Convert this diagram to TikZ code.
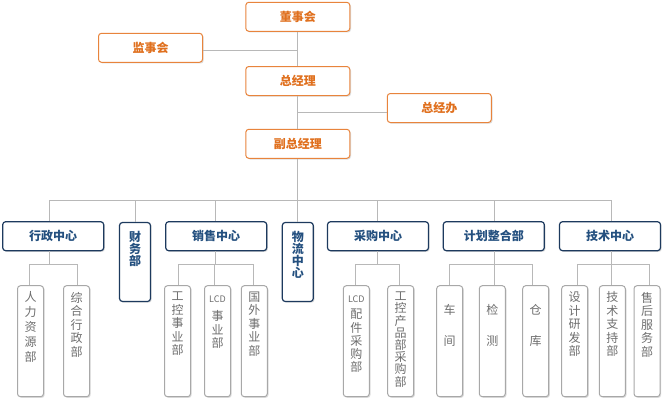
\documentclass[tikz,border=0pt]{standalone}
\usepackage{fontspec}
\setmainfont{Noto Sans CJK SC}
\usetikzlibrary{shadows,calc}
\definecolor{org}{HTML}{E8843C}
\definecolor{orgtxt}{HTML}{E0701E}
\definecolor{navy}{HTML}{1D3A5E}
\definecolor{navytxt}{HTML}{24507F}
\definecolor{gbord}{HTML}{A8A8A8}
\definecolor{gtxt}{HTML}{6E6E6E}
\definecolor{connc}{HTML}{B8B8B8}
\begin{document}
\begin{tikzpicture}[x=1pt,y=-1pt,
 shad/.style={drop shadow={shadow xshift=1.2pt,shadow yshift=-1.2pt,opacity=0.22,fill=black!60}},
 topbox/.style={draw=org,line width=1pt,rounded corners=3pt,fill=white,shad,minimum width=104pt,minimum height=29pt,inner sep=0pt,text=orgtxt,font=\fontsize{12}{12}\selectfont\bfseries},
 midbox/.style={draw=navy,line width=1.2pt,rounded corners=3pt,fill=white,shad,minimum width=101pt,minimum height=29pt,inner sep=0pt,text=navytxt,font=\fontsize{12}{12}\selectfont\bfseries},
 tallbox/.style={draw=navy,line width=1.2pt,rounded corners=3pt,fill=white,shad,minimum width=31pt,minimum height=79pt,inner sep=0pt},
 talltext/.style={text=navytxt,font=\fontsize{12}{12}\selectfont\bfseries,align=center,inner sep=0pt,anchor=north},
 leaf/.style={draw=gbord,line width=1pt,rounded corners=3pt,fill=white,shad,minimum width=26pt,minimum height=111pt,inner sep=0pt},
 leaftext/.style={text=gtxt,font=\fontsize{12}{13.5}\selectfont,align=center,inner sep=0pt,anchor=north},
 conn/.style={draw=connc,line width=1pt}]
\fill[white] (0,0) rectangle (666,412);
\useasboundingbox (0,0) rectangle (666,412);

\coordinate (bus) at (0,200.7);
\coordinate (sub) at (0,264.3);

% top level nodes
\node[topbox] (dsh) at (297.8,16.8) {董事会};
\node[topbox] (jsh) at (150.5,47.8) {监事会};
\node[topbox] (zjl) at (297.8,81) {总经理};
\node[topbox] (zjb) at (439.3,108) {总经办};
\node[topbox] (fzjl) at (297.8,143.8) {副总经理};

% middle level
\node[midbox] (xz) at (53.2,236.2) {行政中心};
\node[tallbox] (cw) at (135,262) {};
\node[talltext] (cwt) at ($(cw.north)+(0,9)$) {财\\务\\部};
\node[midbox] (xs) at (216.2,236.2) {销售中心};
\node[tallbox] (wl) at (297.8,262) {};
\node[talltext] (wlt) at ($(wl.north)+(0,9)$) {物\\流\\中\\心};
\node[midbox] (cg) at (378,236.2) {采购中心};
\node[midbox] (jh) at (493.8,236.2) {计划整合部};
\node[midbox] (js) at (610,236.2) {技术中心};

% leaves
\foreach \n/\x in {rl/30.5,zh/76.5,gk/177.5,lcd/217.5,gw/254.3,lpj/356.3,gkc/400.7,cj/449.7,jc/492.3,ck/535.7,sj/574.7,zc/612.3,sh/647}
  \node[leaf] (\n) at (\x,341.2) {};

\node[leaftext,font=\fontsize{12}{15}\selectfont] (rlt) at ($(rl.north)+(0,6.5)$) {人\\力\\资\\源\\部};
\node[leaftext] (zht) at ($(zh.north)+(0,6.5)$) {综\\合\\行\\政\\部};
\node[leaftext] (gkt) at ($(gk.north)+(0,6.5)$) {工\\控\\事\\业\\部};
\node[leaftext] (lcdt) at ($(lcd.north)+(0,10.5)$) {{\fontsize{9}{9}\selectfont LCD}\\[4.5pt]事\\业\\部};
\node[leaftext] (gwt) at ($(gw.north)+(0,6.5)$) {国\\外\\事\\业\\部};
\node[leaftext,font=\fontsize{12}{13.2}\selectfont] (lpjt) at ($(lpj.north)+(0,10.5)$) {{\fontsize{9}{9}\selectfont LCD}\\[3pt]配\\件\\采\\购\\部};
\node[leaftext,font=\fontsize{12}{12.2}\selectfont] (gkct) at ($(gkc.north)+(0,6.5)$) {工\\控\\产\\品\\部\\采\\购\\部};
\node[leaftext] (cjt) at ($(cj.north)+(0,19)$) {车\\[17.5pt]间};
\node[leaftext] (jct) at ($(jc.north)+(0,19)$) {检\\[17.5pt]测};
\node[leaftext] (ckt) at ($(ck.north)+(0,19)$) {仓\\[17.5pt]库};
\node[leaftext] (sjt) at ($(sj.north)+(0,6.5)$) {设\\计\\研\\发\\部};
\node[leaftext] (zct) at ($(zc.north)+(0,6.5)$) {技\\术\\支\\持\\部};
\node[leaftext] (sht) at ($(sh.north)+(0,6.5)$) {售\\后\\服\\务\\部};

% top connectors
\draw[conn] (dsh.south) -- (zjl.north);
\draw[conn] (zjl.south) -- (fzjl.north);
\draw[conn] (fzjl.south) -- (wl.north);
\draw[conn] ($(jsh.east)+(0,2.5)$) coordinate (a1) -- (a1 -| dsh.south);
\draw[conn] ($(zjb.west)+(0,4.3)$) coordinate (a2) -- (a2 -| zjl.south);

% main bus
\coordinate (xzc) at ($(xz.north)+(-3.9,0)$);
\coordinate (jsc) at ($(js.north)+(1.7,0)$);
\draw[conn] (xzc |- bus) -- (jsc |- bus);
\draw[conn] (xzc) -- (xzc |- bus);
\draw[conn] (cw.north) -- (cw.north |- bus);
\draw[conn] ($(xs.north)+(-1.2,0)$) coordinate (c3) -- (c3 |- bus);
\draw[conn] ($(cg.north)+(-0.3,0)$) coordinate (c4) -- (c4 |- bus);
\draw[conn] ($(jh.north)+(0.5,0)$) coordinate (c5) -- (c5 |- bus);
\draw[conn] (jsc) -- (jsc |- bus);

% sub branches
\draw[conn] ($(xz.south)+(-3.9,0)$) coordinate (d1) -- (d1 |- sub);
\draw[conn] ($(rl.north)+(-1.2,0)$) coordinate (e1) -- (e1 |- sub) -- ($(zh.north |- sub)+(1.2,0)$) -- ($(zh.north)+(1.2,0)$);

\draw[conn] ($(xs.south)+(-1.2,0)$) coordinate (d2) -- (d2 |- sub);
\draw[conn] ($(gk.north)+(0.8,0)$) coordinate (e2) -- (e2 |- sub) -- ($(gw.north |- sub)+(-1,0)$) -- ($(gw.north)+(-1,0)$);
\draw[conn] ($(lcd.north)+(-2.8,0)$) coordinate (e3) -- (e3 |- sub);

\draw[conn] ($(cg.south)+(-0.3,0)$) coordinate (d3) -- (d3 |- sub);
\draw[conn] ($(lpj.north)+(-0.6,0)$) coordinate (e4) -- (e4 |- sub) -- ($(gkc.north |- sub)+(-1,0)$) -- ($(gkc.north)+(-1,0)$);

\draw[conn] ($(jh.south)+(0.5,0)$) coordinate (d4) -- (d4 |- sub);
\draw[conn] (cj.north) -- (cj.north |- sub) -- ($(ck.north |- sub)+(-3.4,0)$) -- ($(ck.north)+(-3.4,0)$);
\draw[conn] ($(jc.north)+(2,0)$) coordinate (e5) -- (e5 |- sub);

\draw[conn] ($(js.south)+(1.7,0)$) coordinate (d5) -- (d5 |- sub);
\draw[conn] ($(sj.north)+(2.3,0)$) coordinate (e6) -- (e6 |- sub) -- ($(sh.north |- sub)+(2.3,0)$) -- ($(sh.north)+(2.3,0)$);
\draw[conn] ($(zc.north)+(-0.6,0)$) coordinate (e7) -- (e7 |- sub);
\end{tikzpicture}
\end{document}
